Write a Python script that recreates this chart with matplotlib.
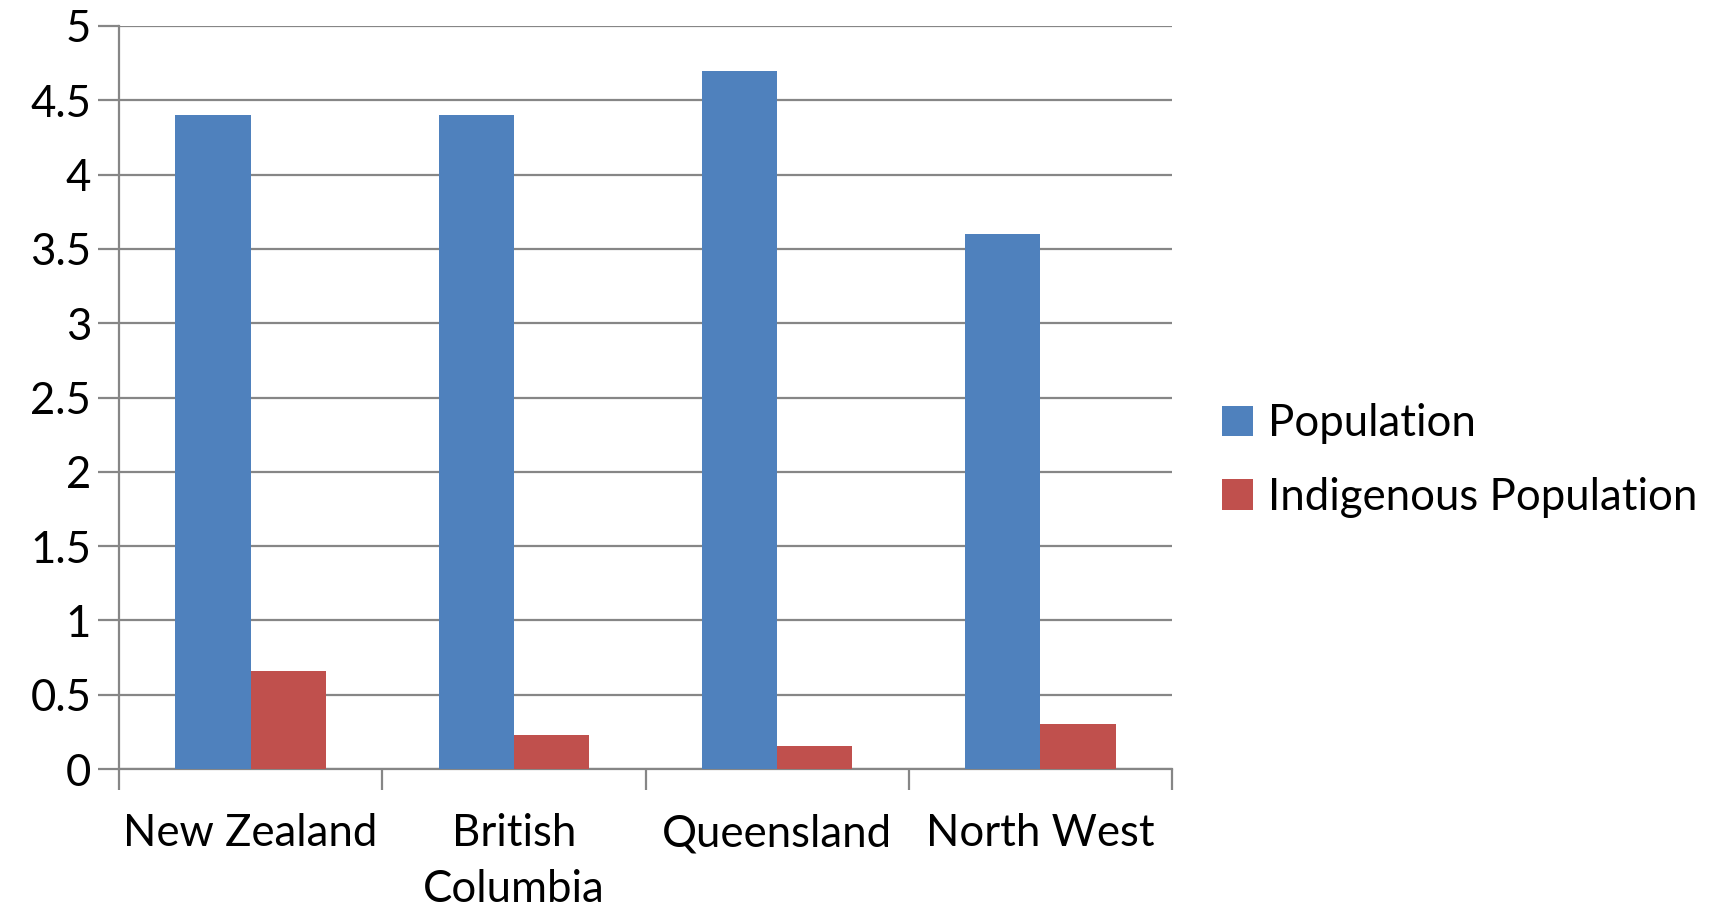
import matplotlib.pyplot as plt
import numpy as np

# Data (millions)
regions = ["New Zealand", "British\nColumbia", "Queensland", "North West"]
population = [4.4, 4.4, 4.7, 3.6]
indigenous = [0.66, 0.23, 0.155, 0.30]

blue = "#4F81BD"
red = "#C0504D"
grid_col = "#868686"

plt.rcParams['font.family'] = ['Lato', 'DejaVu Sans']

fig = plt.figure(figsize=(17.13, 9.07), dpi=100)
ax = fig.add_axes([119 / 1713, 1 - 769 / 907, (1172 - 119) / 1713, (769 - 26) / 907])

x = np.arange(len(regions))
w = 1 / 3.5
ax.bar(x - w / 2, population, width=w, color=blue, label="Population", zorder=3)
ax.bar(x + w / 2, indigenous, width=w, color=red, label="Indigenous Population", zorder=3)

ax.set_xlim(-0.5, len(regions) - 0.5)
ax.set_ylim(0, 5)
ax.set_yticks(np.arange(0, 5.01, 0.5))
ax.set_yticklabels(["0", "0.5", "1", "1.5", "2", "2.5", "3", "3.5", "4", "4.5", "5"])
ax.yaxis.grid(True, color=grid_col, linewidth=1.6, zorder=0)

# category ticks at boundaries, labels at centres
ax.set_xticks(np.arange(-0.5, len(regions)), minor=False)
ax.set_xticklabels([])
ax.set_xticks(x, minor=True)
ax.set_xticklabels(regions, minor=True, fontsize=31.5, linespacing=1.45)
ax.tick_params(axis='x', which='minor', length=0, pad=32)
ax.tick_params(axis='x', which='major', length=15, width=1.6, color=grid_col)
ax.tick_params(axis='y', length=15, width=1.6, color=grid_col, labelsize=31.5, pad=5)

for s in ["top", "right"]:
    ax.spines[s].set_visible(False)
ax.spines["left"].set_color(grid_col)
ax.spines["left"].set_linewidth(1.6)
ax.spines["bottom"].set_color(grid_col)
ax.spines["bottom"].set_linewidth(1.6)

ax.legend(loc="center left", bbox_to_anchor=(1.01, 0.415), frameon=False,
          fontsize=31.5, handlelength=0.7, handleheight=0.7, handletextpad=0.35,
          labelspacing=0.75)

fig.savefig("out.png", dpi=100)
